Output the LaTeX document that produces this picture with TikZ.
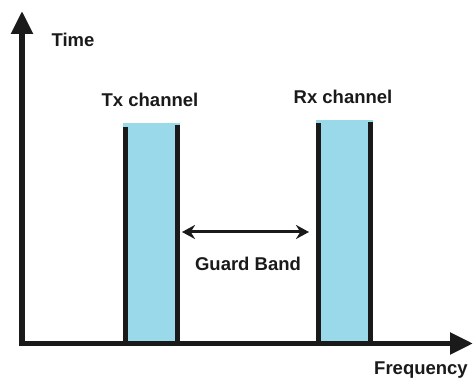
\documentclass[tikz,border=0pt]{standalone}
\usepackage{fontspec}
\setmainfont{Liberation Sans}
\usetikzlibrary{arrows.meta}
\definecolor{chan}{RGB}{153,217,234}
\definecolor{ink}{RGB}{26,26,26}
\begin{document}
\begin{tikzpicture}[x=1pt,y=-1pt,
  lbl/.style={font=\fontsize{18.5}{22}\selectfont\bfseries, text=ink, inner sep=0pt},
  axisline/.style={draw=ink, line width=5.5pt, -{Triangle[length=23pt,width=21pt]}},
  bar/.style={draw=ink, line width=5pt},
  guard/.style={draw=ink, line width=3pt, {Stealth[length=13pt,width=14pt]}-{Stealth[length=13pt,width=14pt]}}]
\useasboundingbox (0,0) rectangle (475,379);
% channels
\fill[chan] (123,123) rectangle (180,343);
\fill[chan] (316,120) rectangle (373,343);
\draw[bar] (125.5,127) -- (125.5,343);
\draw[bar] (177.5,125) -- (177.5,343);
\draw[bar] (318.5,123) -- (318.5,343);
\draw[bar] (370.5,122) -- (370.5,343);
% axes
\coordinate (o) at (22,343.5);
\coordinate (ytop) at (22,11);
\coordinate (xend) at (473,343.5);
\draw[axisline, shorten <=-2.75pt] (o) -- (ytop);
\draw[axisline, shorten <=-2.75pt] (o) -- (xend);
% guard band
\coordinate (gl) at (182,232);
\coordinate (gr) at (309,232);
\draw[guard] (gl) -- (gr);
% labels
\node[lbl] (time) at (73,40) {Time};
\node[lbl] (tx) at (150,100) {Tx channel};
\node[lbl] (rx) at (343,97) {Rx channel};
\node[lbl] (gb) at (248,264) {Guard Band};
\node[lbl] (freq) at (421,370) {Frequency};
\end{tikzpicture}
\end{document}
